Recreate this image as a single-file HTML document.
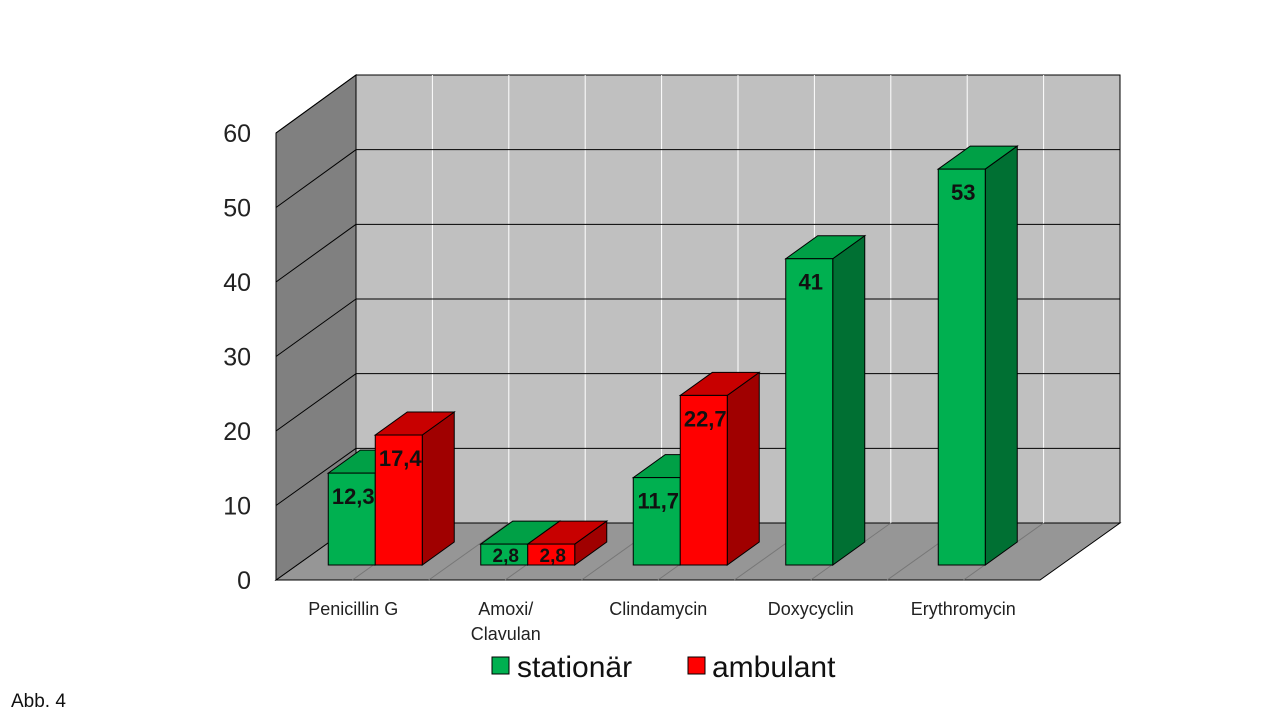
<!DOCTYPE html>
<html><head><meta charset="utf-8"><style>
body{margin:0;background:#fff;width:1280px;height:720px;overflow:hidden;font-family:"Liberation Sans",sans-serif}
</style></head><body>
<svg id="chart" width="1280" height="720" xmlns="http://www.w3.org/2000/svg"></svg>
<script>
const categories=["Penicillin G","Amoxi/|Clavulan","Clindamycin","Doxycyclin","Erythromycin"];
const stationaer=[12.3,2.8,11.7,41,53];
const ambulant=[17.4,2.8,22.7,null,null];
const ticks=[0,10,20,30,40,50,60];
const fmt=v=>String(v).replace('.',',');
const svg=document.getElementById('chart');
const NS='http://www.w3.org/2000/svg';
function el(t,a,txt){const e=document.createElementNS(NS,t);for(const k in a)e.setAttribute(k,a[k]);if(txt!=null)e.textContent=txt;svg.appendChild(e);return e;}
// geometry
const fx0=276,fy0=580,bx0=356,by0=523,bx1=1120,fx1=1040,fyTop=133,byTop=75;
const yFront=v=>fy0-(fy0-fyTop)*v/60;
const yBack=v=>by0-(by0-byTop)*v/60;
const yBar=v=>565-7.47*v;
const catStart=299,catW=152.5,barW=47,ddx=32,ddy=-23;
let e;
e=el('polygon',{points:`${fx0},${fy0} ${bx0},${by0} ${bx1},${by0} ${fx1},${fy0}`,fill:'#969696',stroke:'#000','stroke-width':1});

e=el('polygon',{points:`${fx0},${fyTop} ${bx0},${byTop} ${bx0},${by0} ${fx0},${fy0}`,fill:'#808080',stroke:'#000','stroke-width':1});

e=el('rect',{x:bx0,y:byTop,width:bx1-bx0,height:by0-byTop,fill:'#c0c0c0',stroke:'#000','stroke-width':1});

// vertical grid
for(let i=1;i<10;i++){const x=bx0+(bx1-bx0)*i/10;
e=el('line',{x1:x,y1:byTop,x2:x,y2:by0,stroke:'#fff','stroke-width':1});

e=el('line',{x1:x,y1:by0,x2:x-80,y2:fy0,stroke:'#777','stroke-width':1});
}
ticks.forEach(t=>{
 if(t>0&&t<60){e=el('line',{x1:bx0,y1:yBack(t),x2:bx1,y2:yBack(t),stroke:'#000','stroke-width':1});
 }
 if(t>0){e=el('line',{x1:fx0,y1:yFront(t),x2:bx0,y2:yBack(t),stroke:'#000','stroke-width':1});
 }
 e=el('text',{x:251,y:yFront(t)+9,'text-anchor':'end','font-size':25,fill:'#222'},String(t));
 
});
function bar(x,v,front,side,top,name){
 const y=yBar(v),b=565;
 e=el('polygon',{points:`${x+barW},${y} ${x+barW+ddx},${y+ddy} ${x+barW+ddx},${b+ddy} ${x+barW},${b}`,fill:side,stroke:'#000','stroke-width':1});
 
 e=el('polygon',{points:`${x},${y} ${x+ddx},${y+ddy} ${x+barW+ddx},${y+ddy} ${x+barW},${y}`,fill:top,stroke:'#000','stroke-width':1});
 
 e=el('rect',{x:x,y:y,width:barW,height:b-y,fill:front,stroke:'#000','stroke-width':1});
 
 const ty=Math.min(y+31,b-3);
 e=el('text',{x:x+25,y:ty,'text-anchor':'middle','font-size':v<5?19:22,'font-weight':'bold',fill:'#111'},fmt(v));
 
}
categories.forEach((c,i)=>{
 const cx=catStart+catW*i+catW/2;
 if(stationaer[i]!=null)bar(cx-barW,stationaer[i],'#00b050','#007033','#00a046','bar-stationaer');
 if(ambulant[i]!=null)bar(cx,ambulant[i],'#ff0000','#a00000','#c80000','bar-ambulant');
 const lines=c.split('|');
 lines.forEach((l,j)=>{e=el('text',{x:cx-22,y:615+j*25,'text-anchor':'middle','font-size':18,fill:'#222'},l);
 });
});
e=el('rect',{x:492,y:657,width:17,height:17,fill:'#00b050',stroke:'#000'});

e=el('text',{x:517,y:677,'font-size':30,fill:'#111'},'stationär');

e=el('rect',{x:688,y:657,width:17,height:17,fill:'#ff0000',stroke:'#000'});

e=el('text',{x:712,y:677,'font-size':30,fill:'#111'},'ambulant');

e=el('text',{x:11,y:707,'font-size':19,fill:'#111'},'Abb. 4');

</script>
</body></html>
